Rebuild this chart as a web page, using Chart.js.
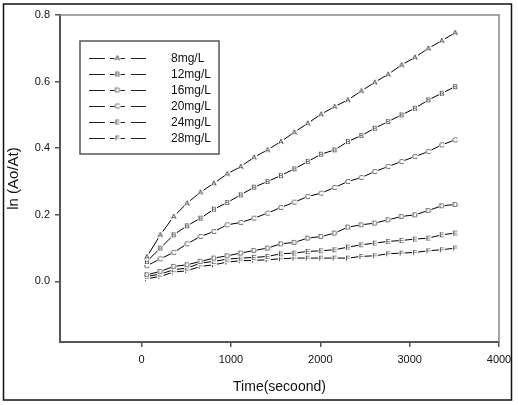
<!DOCTYPE html>
<html>
<head>
<meta charset="utf-8">
<script src="https://cdn.jsdelivr.net/npm/chart.js@4/dist/chart.umd.min.js"></script>
<style>
  body { margin: 0; background: #fff; }
  #wrap { width: 518px; height: 405px; }
</style>
</head>
<body>
<div id="wrap"><canvas id="chart" width="518" height="405"></canvas></div>
<script>
// sampling times (s)
const times = [60, 210, 360, 510, 660, 810, 960, 1110, 1260, 1410, 1560, 1710,
  1860, 2010, 2160, 2310, 2460, 2610, 2760, 2910, 3060, 3210, 3360, 3510];

const seriesLabels = ["8mg/L", "12mg/L", "16mg/L", "20mg/L", "24mg/L", "28mg/L"];
const seriesMarkers = ["A", "B", "D", "C", "E", "F"];

const c8 = [0.074, 0.140, 0.195, 0.235, 0.268, 0.295, 0.323, 0.345, 0.373, 0.395, 0.420, 0.448,
  0.475, 0.502, 0.525, 0.545, 0.572, 0.598, 0.622, 0.650, 0.673, 0.700, 0.723, 0.747];
const c12 = [0.060, 0.100, 0.140, 0.167, 0.190, 0.217, 0.237, 0.260, 0.283, 0.300, 0.318, 0.338,
  0.360, 0.382, 0.395, 0.420, 0.438, 0.460, 0.480, 0.500, 0.520, 0.545, 0.565, 0.585];
const c16 = [0.020, 0.030, 0.045, 0.050, 0.060, 0.070, 0.077, 0.085, 0.093, 0.100, 0.113, 0.117,
  0.130, 0.135, 0.145, 0.163, 0.170, 0.175, 0.185, 0.195, 0.200, 0.213, 0.227, 0.231];
const c20 = [0.047, 0.068, 0.087, 0.113, 0.135, 0.150, 0.170, 0.177, 0.190, 0.205, 0.222, 0.238,
  0.255, 0.265, 0.282, 0.300, 0.312, 0.330, 0.345, 0.360, 0.375, 0.390, 0.410, 0.425];
const c24 = [0.015, 0.022, 0.035, 0.040, 0.055, 0.060, 0.067, 0.070, 0.072, 0.075, 0.083, 0.085,
  0.090, 0.092, 0.095, 0.103, 0.110, 0.115, 0.120, 0.123, 0.127, 0.130, 0.140, 0.145];
const c28 = [0.008, 0.015, 0.028, 0.032, 0.045, 0.050, 0.058, 0.062, 0.063, 0.065, 0.068, 0.070,
  0.070, 0.070, 0.070, 0.070, 0.075, 0.077, 0.083, 0.085, 0.087, 0.092, 0.095, 0.100];
const seriesValues = [c8, c12, c16, c20, c24, c28];

const xTicks = [0, 1000, 2000, 3000, 4000];
const yTicks = [0, 0.2, 0.4, 0.6, 0.8];

const FONT = "'Liberation Sans', Arial, sans-serif";

function letterMarker(ch) {
  const c = document.createElement("canvas");
  c.width = 8;
  c.height = 9;
  const g = c.getContext("2d");
  g.fillStyle = "#fff";
  g.fillRect(1, 1, 6, 7);
  g.fillStyle = "#222";
  g.font = "8px " + FONT;
  g.textAlign = "center";
  g.textBaseline = "middle";
  g.fillText(ch, 4, 5);
  return c;
}

const datasets = seriesLabels.map((label, i) => ({
  label: label,
  data: times.map((t, j) => ({ x: t, y: seriesValues[i][j] })),
  borderColor: "#000",
  borderWidth: 1,
  pointStyle: letterMarker(seriesMarkers[i]),
  pointRadius: 3,
  fill: false,
  tension: 0,
}));

// outer frame, plot box and inner legend
const framePlugin = {
  id: "frame",
  beforeDraw(chart) {
    const ctx = chart.ctx;
    ctx.save();
    ctx.fillStyle = "#fff";
    ctx.fillRect(0, 0, chart.width, chart.height);
    ctx.strokeStyle = "#111";
    ctx.lineWidth = 1.5;
    ctx.strokeRect(3.5, 4, 508, 396);
    ctx.restore();
  },
  afterDraw(chart) {
    const ctx = chart.ctx;
    const a = chart.chartArea;
    ctx.save();
    ctx.strokeStyle = "#888";
    ctx.lineWidth = 1.5;
    ctx.beginPath();
    ctx.moveTo(a.left, a.top);
    ctx.lineTo(a.right, a.top);
    ctx.lineTo(a.right, a.bottom);
    ctx.stroke();

    // legend box
    ctx.strokeStyle = "#555";
    ctx.lineWidth = 1.5;
    ctx.strokeRect(80, 41, 139, 113);
    chart.data.datasets.forEach((ds, i) => {
      const y = Math.round(57.5 + i * 16) + 0.5;
      ctx.strokeStyle = "#222";
      ctx.lineWidth = 1;
      ctx.beginPath();
      ctx.moveTo(89, y); ctx.lineTo(105, y);
      ctx.moveTo(110, y); ctx.lineTo(125, y);
      ctx.moveTo(131, y); ctx.lineTo(146, y);
      ctx.stroke();
      ctx.drawImage(ds.pointStyle, 113.5, y - 5);
      ctx.fillStyle = "#111";
      ctx.font = "12px " + FONT;
      ctx.textAlign = "left";
      ctx.textBaseline = "middle";
      ctx.fillText(ds.label, 171, y);
    });
    ctx.restore();
  },
};

new Chart(document.getElementById("chart"), {
  type: "line",
  data: { datasets: datasets },
  plugins: [framePlugin],
  options: {
    responsive: false,
    animation: false,
    layout: { padding: { top: 15, right: 19, left: 0, bottom: 0 } },
    plugins: {
      legend: { display: false },
      tooltip: { enabled: false },
    },
    scales: {
      x: {
        type: "linear",
        min: -913,
        max: 4000,
        afterBuildTicks: (s) => { s.ticks = xTicks.map((v) => ({ value: v })); },
        afterFit: (s) => { s.height = 63; },
        border: { color: "#555", width: 2 },
        grid: { drawOnChartArea: false, color: "#555", tickLength: 5, lineWidth: 1.5 },
        ticks: {
          color: "#111",
          font: { family: FONT, size: 11 },
          padding: 6,
          maxRotation: 0,
          callback: (v) => String(v),
        },
        title: {
          display: true,
          text: "Time(secoond)",
          color: "#111",
          font: { family: FONT, size: 14 },
          padding: { top: 0, bottom: 9 },
        },
      },
      y: {
        min: -0.182,
        max: 0.8,
        afterBuildTicks: (s) => { s.ticks = yTicks.map((v) => ({ value: v })); },
        afterFit: (s) => { s.width = 60; },
        border: { color: "#555", width: 2 },
        grid: { drawOnChartArea: false, color: "#555", tickLength: 5, lineWidth: 1.5 },
        ticks: {
          color: "#111",
          font: { family: FONT, size: 11 },
          padding: 5,
          callback: (v) => v.toFixed(1),
        },
        title: {
          display: true,
          text: "ln (Ao/At)",
          color: "#111",
          font: { family: FONT, size: 15 },
          padding: { top: 5, bottom: 0 },
        },
      },
    },
  },
});
</script>
</body>
</html>
